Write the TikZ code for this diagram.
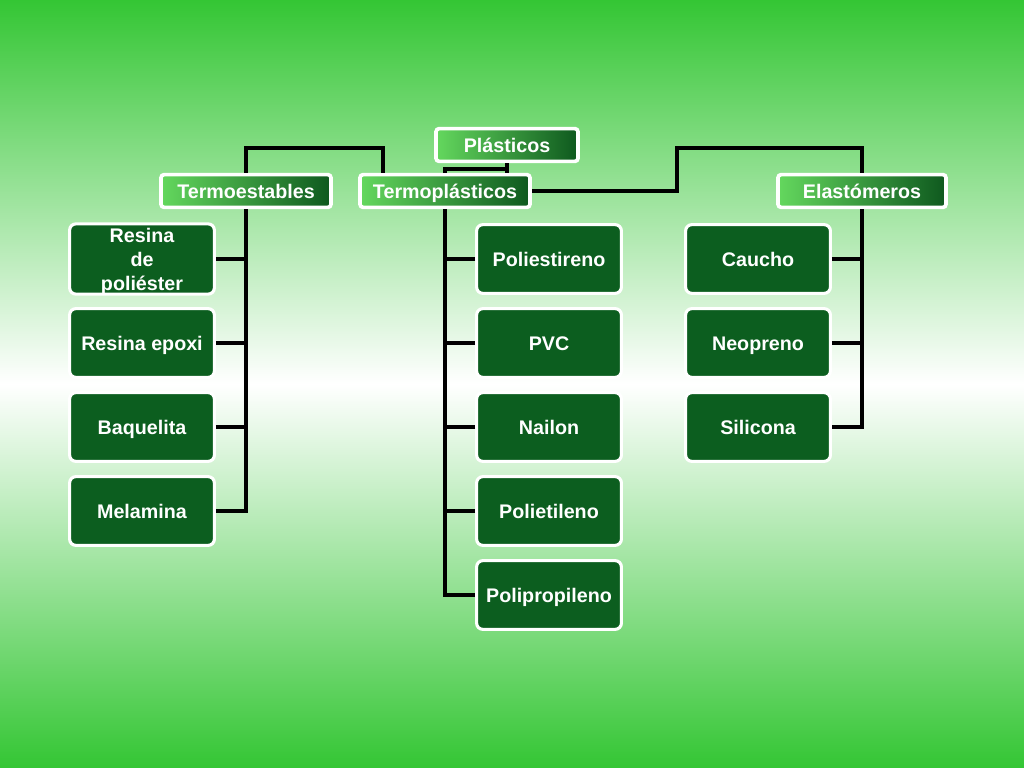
\documentclass[tikz,border=0pt]{standalone}
\usepackage{fontspec}
\setmainfont{Liberation Sans}
\definecolor{bggreen}{RGB}{52,198,52}
\definecolor{boxgreen}{RGB}{12,94,31}
\definecolor{headlight}{RGB}{100,216,94}
\definecolor{headdark}{RGB}{14,88,30}
\tikzset{
  item/.style={draw=white, line width=2.2pt, fill=boxgreen, rounded corners=0.16cm,
    minimum width=3.62cm, minimum height=1.72cm, text=white, align=center,
    font=\bfseries\fontsize{14}{16.8}\selectfont},
  oneline/.style={text height=10pt, text depth=0pt},
  header/.style={draw=white, line width=2.6pt, left color=headlight, right color=headdark,
    rounded corners=0.08cm, minimum height=0.82cm, text=white, oneline,
    font=\bfseries\fontsize{14}{16.8}\selectfont},
  link/.style={draw=black, line width=2.2pt}
}
\begin{document}
\begin{tikzpicture}[x=0.025cm, y=-0.025cm]
    \shade[top color=bggreen, bottom color=bggreen, middle color=white] (0,0) rectangle (1024,768);
    \useasboundingbox (0,0) rectangle (1024,768);

    % headers
    \node[header, minimum width=3.55cm] (pla) at (507,145) {Plásticos};
    \node[header, minimum width=4.25cm] (tes) at (246,191) {Termoestables};
    \node[header, minimum width=4.25cm] (tpl) at (445,191) {Termoplásticos};
    \node[header, minimum width=4.2cm] (ela) at (862,191) {Elastómeros};

    % children
    \node[item, inner ysep=0pt] (tes1) at (142,259) {\rule{0pt}{13.5pt}Resina\\de\\poliéster};
    \foreach \txt [count=\i from 2] in {Resina epoxi, Baquelita, Melamina}
        \node[item, oneline] (tes\i) at (142,175+84*\i) {\txt};
    \foreach \txt [count=\i] in {Poliestireno, PVC, Nailon, Polietileno, Polipropileno}
        \node[item, oneline] (tpl\i) at (549,175+84*\i) {\txt};
    \foreach \txt [count=\i] in {Caucho, Neopreno, Silicona}
        \node[item, oneline] (ela\i) at (758,175+84*\i) {\txt};

    % top connectors
    \coordinate (tj) at (383,148);
    \coordinate (pj) at (445,169);
    \coordinate (ej) at (677,148);
    \draw[link] (tes.north) |- (tj) -- (tj |- tpl.north);
    \draw[link] (pla.south) -- (pla.south |- tpl.north);
    \draw[link] (pla.south |- pj) -| (tpl.north);
    \draw[link] (tpl.east) -| (ej) -| (ela.north);

    % trunks
    \draw[link] (tes.south) |- (tes4.east);
    \foreach \i in {1,...,3}
        \draw[link] (tes\i.east) -- (tes\i.east -| tes.south);
    \draw[link] (tpl.south) |- (tpl5.west);
    \foreach \i in {1,...,4}
        \draw[link] (tpl\i.west) -- (tpl\i.west -| tpl.south);
    \draw[link] (ela.south) |- (ela3.east);
    \foreach \i in {1,2}
        \draw[link] (ela\i.east) -- (ela\i.east -| ela.south);
\end{tikzpicture}
\end{document}
